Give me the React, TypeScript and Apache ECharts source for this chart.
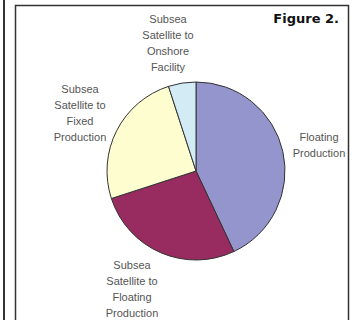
import React, { useEffect, useRef } from "react";
import * as echarts from "echarts";

const categories = [
  "Floating\nProduction",
  "Subsea\nSatellite to\nFloating\nProduction",
  "Subsea\nSatellite to\nFixed\nProduction",
  "Subsea\nSatellite to\nOnshore\nFacility",
];
const values = [43, 27, 25, 5];
const colors = ["#9495cc", "#982c60", "#fefdd0", "#d2ebf5"];
const labelPos: [number, number][] = [
  [319, 145],
  [132, 289],
  [80, 113],
  [168, 43],
];

export default function App() {
  const ref = useRef<HTMLDivElement>(null);
  useEffect(() => {
    document.body.style.margin = "0";
    const chart = echarts.init(ref.current!, null, { renderer: "svg" });
    chart.setOption({
      animation: false,
      backgroundColor: "#ffffff",
      graphic: [
        { type: "rect", shape: { x: 3, y: -2, width: 2, height: 330 }, style: { fill: "#333" } },
        {
          type: "rect",
          shape: { x: 15.5, y: 5.5, width: 333, height: 330 },
          style: { fill: "none", stroke: "#333", lineWidth: 1.5 },
          z: 100,
        },
        {
          type: "text",
          x: 339,
          y: 18,
          style: {
            text: "Figure 2.",
            align: "right",
            verticalAlign: "middle",
            font: "900 13px 'DejaVu Sans', sans-serif",
            fill: "#111",
          },
        },
      ],
      series: [
        {
          type: "pie",
          center: [196, 171],
          radius: 89,
          startAngle: 90,
          clockwise: true,
          silent: true,
          itemStyle: { borderColor: "#333", borderWidth: 1 },
          label: {
            show: true,
            position: "outside",
            formatter: "{b}",
            fontFamily: "'Liberation Sans', Arial, sans-serif",
            fontSize: 11,
            lineHeight: 16,
            color: "#555",
            align: "center",
            overflow: "none",
            edgeDistance: 0,
            bleedMargin: 0,
          },
          labelLine: { show: false },
          labelLayout: (params: any) => {
            const p = labelPos[params.dataIndex];
            return { x: p[0], y: p[1], align: "center", verticalAlign: "middle" };
          },
          data: categories.map((name, i) => ({
            name,
            value: values[i],
            itemStyle: { color: colors[i] },
          })),
        },
      ],
    });
    return () => chart.dispose();
  }, []);
  return <div ref={ref} style={{ width: 356, height: 320 }} />;
}
